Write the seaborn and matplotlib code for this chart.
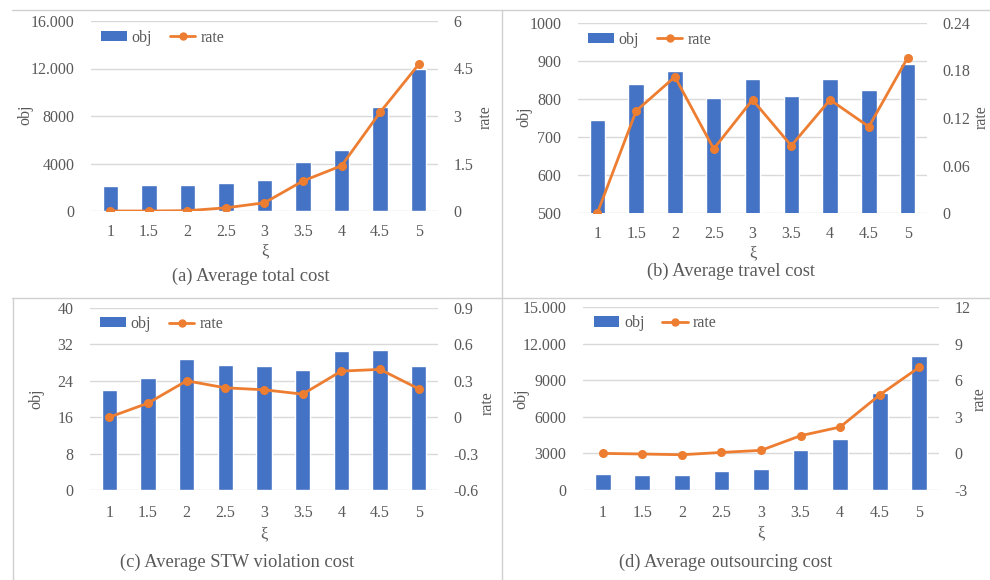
import matplotlib
matplotlib.use("Agg")
import matplotlib.pyplot as plt
import seaborn as sns
import pandas as pd
import numpy as np
from matplotlib.lines import Line2D
from matplotlib.patches import Patch
from matplotlib.ticker import FuncFormatter

# x categories
xi = ["1", "1.5", "2", "2.5", "3", "3.5", "4", "4.5", "5"]

# (a) Average total cost
total_obj = [2100, 2180, 2180, 2380, 2600, 4120, 5130, 8800, 11950]
total_rate = [0.0, 0.0, 0.01, 0.1, 0.26, 0.95, 1.43, 3.12, 4.63]
# (b) Average travel cost
travel_obj = [745, 840, 873, 803, 852, 807, 852, 825, 891]
travel_rate = [0.0, 0.129, 0.172, 0.081, 0.143, 0.085, 0.143, 0.109, 0.196]
# (c) Average STW violation cost
stw_obj = [22.0, 24.6, 28.8, 27.4, 27.3, 26.3, 30.6, 30.8, 27.3]
stw_rate = [0.0, 0.116, 0.30, 0.242, 0.226, 0.19, 0.38, 0.394, 0.234]
# (d) Average outsourcing cost
out_obj = [1310, 1230, 1230, 1530, 1720, 3260, 4220, 7910, 10980]
out_rate = [0.0, -0.05, -0.11, 0.08, 0.25, 1.45, 2.16, 4.79, 7.06]

BLUE = "#4472C4"
ORANGE = "#ED7D31"
GRID = "#D9D9D9"
TXT = "#595959"

W, H = 990, 580
FS = 11.5

sns.set_theme(style="white")
plt.rcParams["font.family"] = ["Liberation Serif", "DejaVu Serif"]


def fmt_num(v, pos=None):
    # Excel style: dot separator only from five digits on
    if abs(v) >= 10000:
        return f"{int(round(v)):,}".replace(",", ".")
    if float(v).is_integer():
        return f"{int(v)}"
    return f"{v:g}"


def ftext(x, y, s, **kw):
    fig.text(x / W, 1 - y / H, s, ha="center", va="center", color=TXT, **kw)


def panel(box, obj, rate, obj_lim, obj_step, rate_lim, rate_step,
          caption, xlab_y, cap_xy, obj_xy, rate_xy, xpad=11):
    l, r, t, b = box
    ax = fig.add_axes([l / W, 1 - b / H, (r - l) / W, (b - t) / H])
    df = pd.DataFrame({"xi": xi, "obj": obj, "rate": rate})
    sns.barplot(data=df, x="xi", y="obj", color=BLUE, width=0.4,
                saturation=1, ax=ax, zorder=2)
    ax.set_ylim(*obj_lim)
    ax.set_yticks(np.arange(obj_lim[0], obj_lim[1] + obj_step / 2, obj_step))
    ax.yaxis.set_major_formatter(FuncFormatter(fmt_num))
    ax.grid(axis="y", color=GRID, linewidth=1, zorder=0)
    ax.set_axisbelow(True)
    for s in ax.spines.values():
        s.set_visible(False)
    ax.tick_params(axis="y", length=0, labelsize=FS, colors=TXT, pad=12)
    ax.tick_params(axis="x", length=0, labelsize=FS, colors=TXT, pad=xpad)
    ax.set_xlabel("")
    ax.set_ylabel("")

    ax2 = ax.twinx()
    sns.pointplot(data=df, x="xi", y="rate", color=ORANGE, markers="o",
                  markersize=5, linewidth=2, ax=ax2)
    ax2.set_ylim(*rate_lim)
    ax2.set_yticks(np.arange(rate_lim[0], rate_lim[1] + rate_step / 2, rate_step))
    ax2.yaxis.set_major_formatter(FuncFormatter(lambda v, p: f"{round(v, 2):g}"))
    for s in ax2.spines.values():
        s.set_visible(False)
    ax2.tick_params(axis="y", length=0, labelsize=FS, colors=TXT, pad=11)
    ax2.set_ylabel("")
    ax2.set_xlabel("")
    ax.set_xlim(-0.5, 8.5)

    ftext(obj_xy[0], obj_xy[1], "obj", fontsize=FS, rotation=90)
    ftext(rate_xy[0], rate_xy[1], "rate", fontsize=FS, rotation=90)
    ftext((l + r) / 2, xlab_y, "ξ", fontsize=12)
    ftext(cap_xy[0], cap_xy[1], caption, fontsize=13.3)

    handles = [Patch(facecolor=BLUE, edgecolor="none"),
               Line2D([], [], color=ORANGE, marker="o", markersize=5, linewidth=2)]
    ax.legend(handles, ["obj", "rate"], loc="center left", ncol=2, frameon=False,
              fontsize=FS, bbox_to_anchor=(0.03, 0.912), borderaxespad=0,
              borderpad=0, handlelength=1.6, handleheight=0.6,
              handletextpad=0.3, columnspacing=1.1, labelcolor=TXT)
    return ax, ax2


fig = plt.figure(figsize=(W / 100, H / 100), dpi=100)

panel((91, 438, 21, 211), total_obj, total_rate, (0, 16000), 4000,
      (0, 6), 1.5, "(a) Average total cost", 251, (251, 276), (25, 115), (486, 117),
      xpad=9)
panel((578, 927, 23, 213), travel_obj, travel_rate, (500, 1000), 100,
      (0, 0.24), 0.06, "(b) Average travel cost", 253, (731, 271), (524, 117), (982, 117),
      xpad=9)
panel((90, 438, 308, 490), stw_obj, stw_rate, (0, 40), 8,
      (-0.6, 0.9), 0.3, "(c) Average STW violation cost", 534, (237, 562), (36, 399), (488, 403))
panel((583, 939, 307, 490), out_obj, out_rate, (0, 15000), 3000,
      (-3, 12), 3, "(d) Average outsourcing cost", 533, (726, 562), (521, 399), (980, 399))

# separator lines between panels
sep = "#D0D0D0"
fig.add_artist(Line2D([12 / W, 1], [1 - 9.5 / H, 1 - 9.5 / H], color=sep, lw=1))
fig.add_artist(Line2D([12 / W, 1], [1 - 298 / H, 1 - 298 / H], color=sep, lw=1))
fig.add_artist(Line2D([502 / W, 502 / W], [0, 1 - 9.5 / H], color=sep, lw=1))
fig.add_artist(Line2D([13 / W, 13 / W], [0, 1 - 298 / H], color=sep, lw=1))

fig.savefig("out.png", dpi=100)
